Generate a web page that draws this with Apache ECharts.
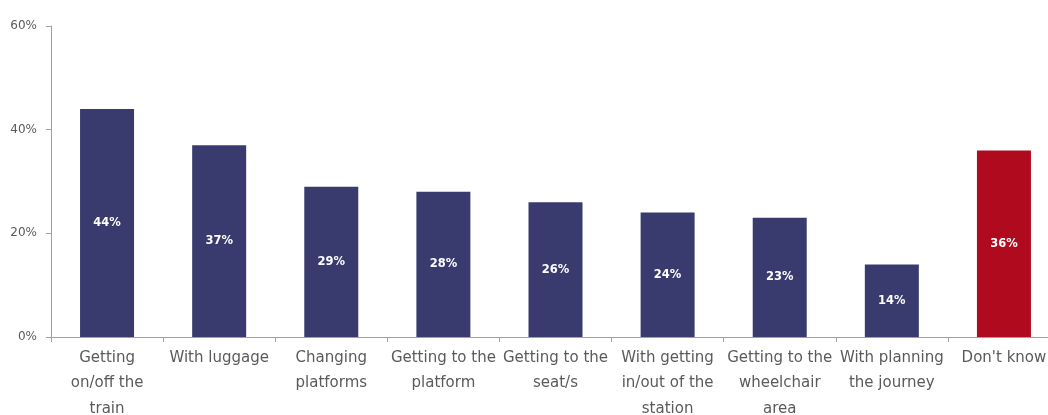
<!DOCTYPE html>
<html>
<head>
<meta charset="utf-8">
<script src="https://cdn.jsdelivr.net/npm/echarts@6/dist/echarts.min.js"></script>
<style>
  html, body { margin: 0; padding: 0; background: #fff; }
  #chart { width: 1048px; height: 415px; }
</style>
</head>
<body>
<div id="chart"></div>
<script>
// Where respondents needed help on their journey (% of respondents)
const categories = [
  'Getting\non/off the\ntrain',
  'With luggage',
  'Changing\nplatforms',
  'Getting to the\nplatform',
  'Getting to the\nseat/s',
  'With getting\nin/out of the\nstation',
  'Getting to the\nwheelchair\narea',
  'With planning\nthe journey',
  "Don't know"
];
const values = [44, 37, 29, 28, 26, 24, 23, 14, 36];
const highlightCategory = "Don't know";
const yTicks = [0, 20, 40, 60];

const navy = '#393b6f';
const red = '#b00a1f';
const axisGrey = '#a0a0a0';
const textGrey = '#5a5a5a';
const font = '"DejaVu Sans", Verdana, sans-serif';

const chart = echarts.init(document.getElementById('chart'), null, { renderer: 'canvas' });

chart.setOption({
  animation: false,
  grid: {
    left: 51, top: 26, width: 1009, height: 311,
    containLabel: false,
    outerBoundsMode: 'none'
  },
  xAxis: {
    type: 'category',
    data: categories,
    axisLine: { lineStyle: { color: axisGrey, width: 1 } },
    axisTick: { show: true, alignWithLabel: false, length: 5, lineStyle: { color: axisGrey } },
    axisLabel: {
      interval: 0,
      color: textGrey,
      fontFamily: font,
      fontSize: 15,
      lineHeight: 25.5,
      margin: 8
    }
  },
  yAxis: {
    type: 'value',
    min: yTicks[0],
    max: yTicks[yTicks.length - 1],
    interval: yTicks[1] - yTicks[0],
    axisLine: { show: true, lineStyle: { color: axisGrey, width: 1 } },
    axisTick: { show: true, length: 5, lineStyle: { color: axisGrey } },
    splitLine: { show: false },
    axisLabel: {
      color: textGrey,
      fontFamily: font,
      fontSize: 12,
      margin: 14,
      formatter: v => v + '%'
    }
  },
  series: [{
    type: 'bar',
    barWidth: 54,
    data: values.map((v, i) => ({
      value: v,
      itemStyle: { color: categories[i] === highlightCategory ? red : navy }
    })),
    label: {
      show: true,
      position: 'inside',
      color: '#ffffff',
      fontFamily: font,
      fontWeight: 'bold',
      fontSize: 11.5,
      formatter: p => p.value + '%'
    }
  }]
});
</script>
</body>
</html>
